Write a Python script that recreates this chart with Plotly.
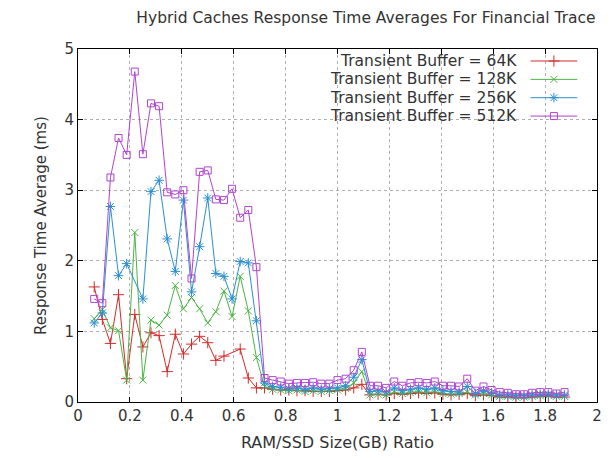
import plotly.graph_objects as go

# RAM/SSD size ratio (x categories)
ratio = [0.0625, 0.09375, 0.125, 0.15625, 0.1875, 0.21875, 0.25, 0.28125, 0.3125, 0.34375,
         0.375, 0.40625, 0.4375, 0.46875, 0.5, 0.53125, 0.5625, 0.59375, 0.625, 0.65625,
         0.6875, 0.71875, 0.75, 0.78125, 0.8125, 0.84375, 0.875, 0.90625, 0.9375, 0.96875,
         1.0, 1.03125, 1.0625, 1.09375, 1.125, 1.15625, 1.1875, 1.21875, 1.25, 1.28125,
         1.3125, 1.34375, 1.375, 1.40625, 1.4375, 1.46875, 1.5, 1.53125, 1.5625, 1.59375,
         1.625, 1.65625, 1.6875, 1.71875, 1.75, 1.78125, 1.8125, 1.84375, 1.875]

buf_64k = [1.63, 1.17, 0.83, 1.52, 0.33, 1.24, 0.78, 0.98, 0.94, 0.43,
           0.96, 0.68, 0.82, 0.93, 0.84, 0.59, 0.65, None, 0.75, 0.34,
           0.20, 0.20, 0.18, 0.17, 0.17, 0.16, 0.16, 0.15, 0.15, 0.15,
           0.16, 0.17, 0.20, 0.25, 0.10, 0.11, 0.10, 0.12, 0.11, 0.12,
           0.13, 0.12, 0.13, 0.11, 0.10, 0.11, 0.12, 0.09, 0.10, 0.09,
           0.07, 0.07, 0.06, 0.06, 0.07, 0.08, 0.08, 0.07, 0.07]

buf_128k = [1.18, 1.31, 1.05, 1.01, 0.31, 2.40, 0.31, 1.16, 1.09, 1.23,
            1.65, 1.32, 1.48, 1.32, 1.12, 1.28, 1.57, 1.21, 1.78, 1.29,
            0.63, 0.22, 0.18, 0.17, 0.16, 0.17, 0.15, 0.16, 0.15, 0.16,
            0.17, 0.19, 0.27, 0.43, 0.10, 0.11, 0.10, 0.14, 0.12, 0.13,
            0.15, 0.13, 0.15, 0.12, 0.11, 0.12, 0.14, 0.10, 0.12, 0.10,
            0.08, 0.08, 0.07, 0.07, 0.08, 0.09, 0.09, 0.08, 0.08]

buf_256k = [1.12, 1.26, 2.77, 1.79, 1.96, None, 1.46, 2.98, 3.14, 2.31,
            1.85, 2.86, 1.56, 2.20, 2.89, 1.82, 1.78, 1.46, 1.99, 1.97,
            1.15, 0.27, 0.22, 0.21, 0.19, 0.20, 0.18, 0.20, 0.18, 0.19,
            0.20, 0.23, 0.35, 0.60, 0.15, 0.16, 0.14, 0.20, 0.16, 0.18,
            0.20, 0.18, 0.20, 0.16, 0.15, 0.14, 0.22, 0.12, 0.16, 0.13,
            0.10, 0.10, 0.09, 0.09, 0.10, 0.11, 0.11, 0.10, 0.10]

buf_512k = [1.46, 1.40, 3.18, 3.74, 3.50, 4.68, 3.51, 4.23, 4.19, 2.97,
            2.94, 3.00, 1.75, 3.26, 3.28, 2.87, 2.86, 3.02, 2.61, 2.72,
            1.91, 0.34, 0.31, 0.29, 0.26, 0.27, 0.27, 0.28, 0.26, 0.26,
            0.31, 0.33, 0.45, 0.71, 0.23, 0.23, 0.20, 0.29, 0.23, 0.27,
            0.28, 0.27, 0.29, 0.23, 0.23, 0.22, 0.33, 0.16, 0.22, 0.17,
            0.14, 0.13, 0.11, 0.11, 0.13, 0.14, 0.14, 0.12, 0.14]

labels = ["Transient Buffer = 64K", "Transient Buffer = 128K",
          "Transient Buffer = 256K", "Transient Buffer = 512K"]
series = [buf_64k, buf_128k, buf_256k, buf_512k]
colors = ["#d42a2a", "#4cb444", "#2b8fd2", "#b044d0"]
symbols = ["cross-thin-open", "x-thin-open", "asterisk-open", "square-open"]
sizes = [8, 7, 8, 7]

FONT = "DejaVu Sans"
TXT = "#333333"

fig = go.Figure()
for ys, name, c, s, sz in zip(series, labels, colors, symbols, sizes):
    fig.add_trace(go.Scatter(
        x=ratio, y=ys, name=name, mode="lines+markers", connectgaps=True,
        line=dict(color=c, width=1),
        marker=dict(symbol=s, size=sz, color=c, line=dict(color=c, width=1)),
        showlegend=False))

# manual gnuplot-style key (text left, sample right)
row_y = [0.966, 0.914, 0.862, 0.810]
for name, c, s, sz, yy in zip(labels, colors, symbols, sizes, row_y):
    fig.add_trace(go.Scatter(x=[0.872, 0.962], y=[yy, yy], mode="lines",
                             line=dict(color=c, width=1), xaxis="x2", yaxis="y2",
                             showlegend=False, hoverinfo="skip"))
    fig.add_trace(go.Scatter(x=[0.917], y=[yy], mode="markers",
                             marker=dict(symbol=s, size=sz, color=c, line=dict(color=c, width=1)),
                             xaxis="x2", yaxis="y2", showlegend=False, hoverinfo="skip"))
    fig.add_annotation(xref="paper", yref="paper", x=0.850, y=yy, text=name,
                       showarrow=False, xanchor="right", yanchor="middle",
                       font=dict(family=FONT, size=15.5, color=TXT))

fig.add_shape(type="rect", xref="paper", yref="paper", x0=0.36, x1=0.998, y0=0.785, y1=0.998,
              fillcolor="white", line=dict(width=0), layer="between")

fig.update_layout(
    width=614, height=460,
    margin=dict(l=78, r=12, t=49, b=55),
    paper_bgcolor="white", plot_bgcolor="white",
    font=dict(family=FONT, size=14, color=TXT),
    title=dict(text="Hybrid Caches Response Time Averages For Financial Trace",
               x=0.596, xref="container", xanchor="center",
               y=0.962, yref="container", yanchor="middle",
               font=dict(family=FONT, size=15.5, color=TXT)),
    xaxis=dict(range=[0, 2], dtick=0.2, tick0=0, tickformat="~g",
               showgrid=True, gridcolor="#b0b0b0", griddash="dot", gridwidth=1,
               showline=True, linecolor="black", linewidth=1, mirror="ticks",
               ticks="inside", ticklen=5, tickcolor="black", zeroline=False,
               title=dict(text="RAM/SSD Size(GB) Ratio", standoff=12,
                          font=dict(family=FONT, size=16, color=TXT)),
               tickfont=dict(family=FONT, size=15, color=TXT)),
    yaxis=dict(range=[0, 5], dtick=1, tick0=0,
               showgrid=True, gridcolor="#b0b0b0", griddash="dot", gridwidth=1,
               showline=True, linecolor="black", linewidth=1, mirror="ticks",
               ticks="inside", ticklen=5, tickcolor="black", zeroline=False,
               title=dict(text="Response Time Average (ms)", standoff=14,
                          font=dict(family=FONT, size=15, color=TXT)),
               tickfont=dict(family=FONT, size=15, color=TXT)),
    xaxis2=dict(range=[0, 1], overlaying="x", visible=False, fixedrange=True),
    yaxis2=dict(range=[0, 1], overlaying="y", visible=False, fixedrange=True),
)

fig.write_html("out.html")
